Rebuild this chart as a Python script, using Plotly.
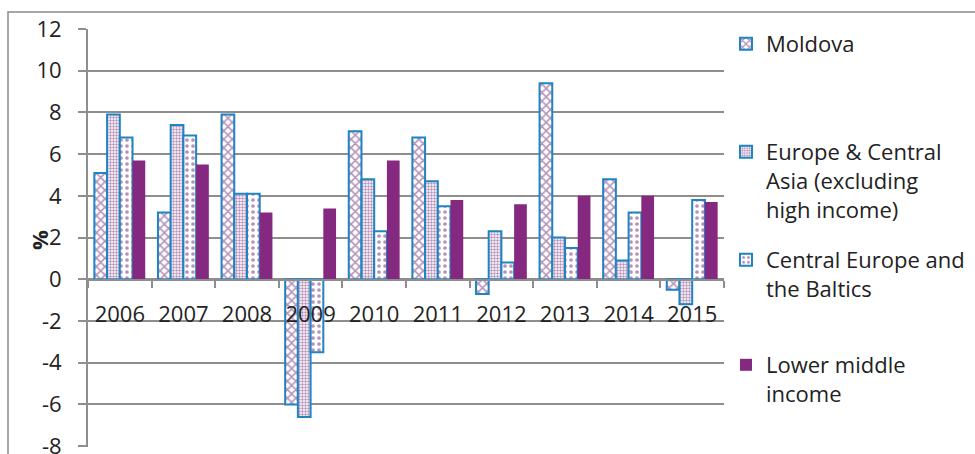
import plotly.graph_objects as go

years = ["2006", "2007", "2008", "2009", "2010", "2011", "2012", "2013", "2014", "2015"]
moldova = [5.1, 3.2, 7.9, -6.0, 7.1, 6.8, -0.7, 9.4, 4.8, -0.5]
eca = [7.9, 7.4, 4.1, -6.6, 4.8, 4.7, 2.3, 2.0, 0.9, -1.2]
ceb = [6.8, 6.9, 4.1, -3.5, 2.3, 3.5, 0.8, 1.5, 3.2, 3.8]
lmi = [5.7, 5.5, 3.2, 3.4, 5.7, 3.8, 3.6, 4.0, 4.0, 3.7]

y_tickvals = [-8, -6, -4, -2, 0, 2, 4, 6, 8, 10, 12]
y_ticktext = ["-8", "-6", "-4", "-2", "0", "2", "4", "6", "8", "10", "12"]

names = ["Moldova", "Europe & Central<br>Asia (excluding<br>high income)",
         "Central Europe and<br>the Baltics", "Lower middle<br>income"]

PURPLE = "#84297F"
PAT = "#6E2672"
BLUE = "#1F83C4"
GRID = "#8E8E8E"
FONT = "Open Sans"
TXT = "#222222"

fig = go.Figure()
patterns = [dict(shape="x", size=6, solidity=0.45),
            dict(shape=".", size=3, solidity=0.5),
            dict(shape=".", size=6, solidity=0.3)]
for i, (vals, pat) in enumerate(zip([moldova, eca, ceb], patterns)):
    fig.add_trace(go.Bar(
        x=years, y=vals, name=names[i],
        legend="legend" if i == 0 else f"legend{i+1}",
        marker=dict(color="white",
                    line=dict(color=BLUE, width=2),
                    pattern=dict(shape=pat["shape"], size=pat["size"], solidity=pat["solidity"],
                                 fgcolor=PAT, fillmode="overlay")),
    ))
fig.add_trace(go.Bar(x=years, y=lmi, name=names[3], legend="legend4",
                     marker=dict(color=PURPLE, line=dict(width=0))))

def leg(ytop):
    return dict(x=726 / 975, y=1 - ytop / 454, xref="container", yref="container",
                xanchor="left", yanchor="top", valign="top",
                font=dict(family=FONT, size=22, color=TXT),
                bgcolor="rgba(0,0,0,0)", itemwidth=30)

fig.update_layout(
    width=975, height=454,
    margin=dict(l=88, r=251, t=29, b=7),
    paper_bgcolor="white", plot_bgcolor="white",
    barmode="group", bargap=0.2, bargroupgap=0,
    font=dict(family=FONT, size=22, color=TXT),
    showlegend=True,
    legend=leg(23), legend2=leg(131), legend3=leg(239), legend4=leg(344),
    xaxis=dict(anchor="free", position=0.4, showline=True, linecolor=GRID, linewidth=2,
               ticks="outside", tickson="boundaries", ticklen=7, tickcolor=GRID, tickwidth=2,
               ticklabelstandoff=15, showgrid=False, automargin=False,
               tickfont=dict(family=FONT, size=22, color=TXT)),
    yaxis=dict(range=[-8.04, 12], tickvals=y_tickvals, ticktext=y_ticktext,
               showline=True, linecolor=GRID, linewidth=2,
               ticks="outside", ticklen=8, tickcolor=GRID, tickwidth=2,
               showgrid=True, gridcolor=GRID, gridwidth=2, zeroline=False,
               ticklabelstandoff=12, ticklabeloverflow="allow", automargin=False,
               tickfont=dict(family=FONT, size=22, color=TXT)),
    annotations=[dict(text="<b>%</b>", xref="paper", yref="paper",
                      x=(39 - 88) / 636, y=(447 - 240) / 418, textangle=-90,
                      showarrow=False, xanchor="center", yanchor="middle",
                      font=dict(family=FONT, size=22, color=TXT))],
    shapes=[dict(type="rect", xref="paper", yref="paper",
                 x0=(8 - 88) / 636, x1=(990 - 88) / 636,
                 y0=(447 - 470) / 418, y1=(447 - 12) / 418,
                 line=dict(color="#8A8A8A", width=1.5), fillcolor="rgba(0,0,0,0)", layer="below")],
)

fig.write_html("out.html")
